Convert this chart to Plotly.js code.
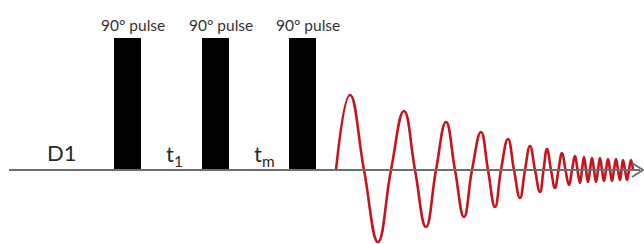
<!DOCTYPE html>
<html>
<head>
<meta charset="utf-8">
<script src="https://cdn.plot.ly/plotly-3.0.1.min.js"></script>
<style>html,body{margin:0;padding:0;background:#fff;}#chart{width:644px;height:244px;}</style>
</head>
<body>
<div id="chart"></div>
<script>
// Pulse sequence data
const pulseX = [127.5, 215.5, 302.5];
const pulseHeight = [132, 132, 132];
const pulseLabels = ["90° pulse", "90° pulse", "90° pulse"];
const pulseWidth = 27;

const delayX = [62, 174, 264];
const delayLabels = ["D1", "t<sub>1</sub>", "t<sub>m</sub>"];

const baseX = [9, 640];
const baseY = [0, 0];

// FID (free induction decay) signal: extrema and zero crossings
const fidX = [336, 350, 364, 378, 391, 404, 415, 426, 436, 446, 455, 464, 472, 481, 488, 495, 501, 508, 514, 520, 525, 530, 535, 540, 543.5, 547, 551, 555, 558.5, 562, 565.5, 569, 572, 575, 577.5, 580, 582, 584, 586, 588, 590, 592, 594, 596, 598, 600, 602, 604, 606, 608, 610, 612, 614, 616, 618, 620, 621.5, 623, 625, 627, 629, 631, 633];
const fidY = [0, 75, 0, -72, 0, 59, 0, -57, 0, 48, 0, -47, 0, 38, 0, -37, 0, 31, 0, -28, 0, 24, 0, -22, 0, 21, 0, -18, 0, 17, 0, -15, 0, 14, 0, -13, 0, 13, 0, -12, 0, 12, 0, -12, 0, 12, 0, -11, 0, 11, 0, -11, 0, 11, 0, -10, 0, 10, 0, -10, 0, 10, 0];

const traces = [
  {
    type: 'scatter', mode: 'lines', x: fidX, y: fidY,
    line: {color: '#c8141c', width: 2.6, shape: 'spline', smoothing: 1.3},
    hoverinfo: 'skip'
  },
  {
    type: 'scatter', mode: 'lines', x: baseX, y: baseY,
    line: {color: '#6e6e6e', width: 2},
    hoverinfo: 'skip'
  },
  {
    type: 'bar', x: pulseX, y: pulseHeight, width: pulseWidth, base: 0,
    marker: {color: '#000000', line: {width: 0}},
    hoverinfo: 'skip'
  }
];

const annotations = [];
pulseX.forEach((x, i) => annotations.push({
  x: x, y: pulseHeight[i], xref: 'x', yref: 'y', text: pulseLabels[i],
  showarrow: false, xshift: 5, yshift: 13, yanchor: 'middle',
  font: {family: 'Lato, sans-serif', size: 15.5, color: '#333333'}
}));
delayX.forEach((x, i) => annotations.push({
  x: x, y: 0, xref: 'x', yref: 'y', text: delayLabels[i],
  showarrow: false, yanchor: 'bottom', yshift: i === 0 ? 2 : -2,
  font: {family: 'Lato, sans-serif', size: 22, color: '#2a2a2a'}
}));

const layout = {
  width: 644, height: 244,
  margin: {l: 0, r: 0, t: 0, b: 0},
  paper_bgcolor: '#ffffff', plot_bgcolor: '#ffffff',
  showlegend: false,
  xaxis: {range: [0, 644], visible: false, fixedrange: true},
  yaxis: {range: [-74, 170], visible: false, fixedrange: true},
  bargap: 0,
  annotations: annotations,
  shapes: [{
    type: 'path', xref: 'x', yref: 'y',
    path: 'M 632 7 L 643 0 L 632 -7',
    line: {color: '#6e6e6e', width: 2}
  }]
};

Plotly.newPlot('chart', traces, layout, {staticPlot: true, displayModeBar: false});
</script>
</body>
</html>
